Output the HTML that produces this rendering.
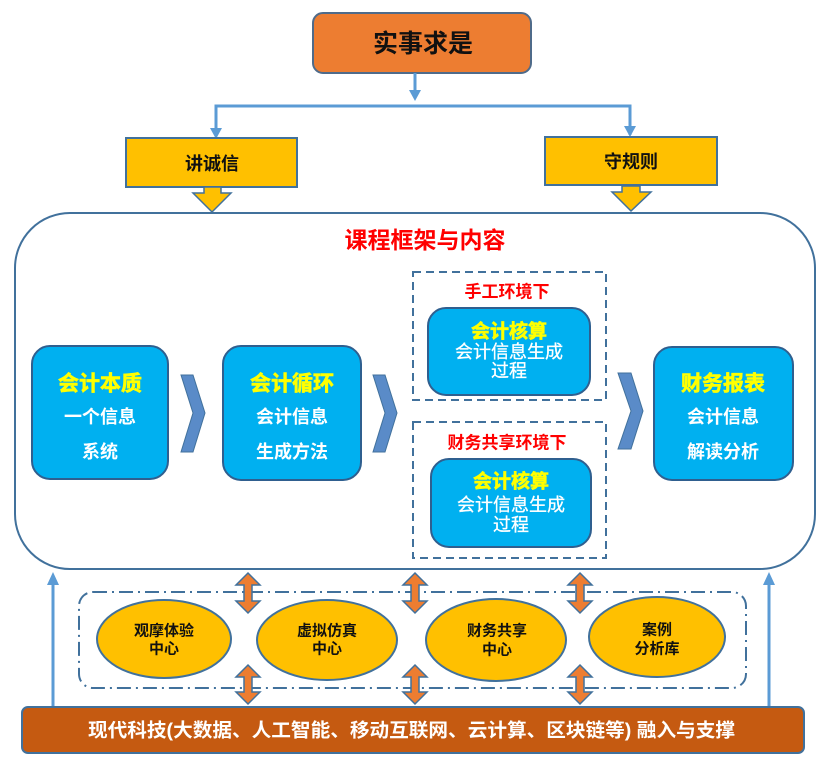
<!DOCTYPE html>
<html>
<head>
<meta charset="utf-8">
<style>
  html,body{margin:0;padding:0;background:#fff;}
  svg{display:block;}
  text{font-family:"Liberation Sans","Noto Sans CJK SC",sans-serif;}
</style>
</head>
<body>
<svg width="832" height="775" viewBox="0 0 832 775" xmlns="http://www.w3.org/2000/svg">
  <rect x="0" y="0" width="832" height="775" fill="#ffffff"/>

  <!-- Top box -->
  <rect x="313" y="13" width="218" height="60" rx="10" fill="#ED7D31" stroke="#4F6B8A" stroke-width="2"/>
  <text x="423" y="44" font-size="25" font-weight="bold" fill="#111" text-anchor="middle" dominant-baseline="central">实事求是</text>

  <!-- connectors -->
  <g stroke="#5B9BD5" stroke-width="3" fill="none">
    <line x1="415" y1="73" x2="415" y2="92"/>
    <polyline points="216,136 216,106 630,106 630,135"/>
  </g>
  <g fill="#5B9BD5">
    <polygon points="409,90 421,90 415,101"/>
    <polygon points="210,128 222,128 216,139"/>
    <polygon points="624,126 636,126 630,137"/>
  </g>

  <!-- yellow boxes -->
  <rect x="126" y="138" width="171" height="49" fill="#FFC000" stroke="#41719C" stroke-width="2"/>
  <text x="212" y="164" font-size="18" font-weight="bold" fill="#111" text-anchor="middle" dominant-baseline="central">讲诚信</text>
  <polygon points="204,187 221,187 221,193 231,193 212,212 193,193 204,193" fill="#FFC000" stroke="#41719C" stroke-width="1.5"/>

  <rect x="545" y="137" width="172" height="48" fill="#FFC000" stroke="#41719C" stroke-width="2"/>
  <text x="631" y="162" font-size="18" font-weight="bold" fill="#111" text-anchor="middle" dominant-baseline="central">守规则</text>
  <polygon points="622,186 640,186 640,192 651,192 631,211 612,192 622,192" fill="#FFC000" stroke="#41719C" stroke-width="1.5"/>

  <!-- main container -->
  <rect x="15" y="213" width="800" height="356" rx="55" fill="#ffffff" stroke="#41719C" stroke-width="2"/>
  <text x="425" y="240" font-size="23" font-weight="bold" fill="#FF0000" text-anchor="middle" dominant-baseline="central">课程框架与内容</text>

  <!-- Box 1 -->
  <rect x="32" y="346" width="136" height="133" rx="18" fill="#00B0F0" stroke="#2F5F8F" stroke-width="2"/>
  <text x="100" y="384" font-size="21" font-weight="bold" fill="#FFFF00" stroke="#FFFF00" stroke-width="0.6" text-anchor="middle" dominant-baseline="central">会计本质</text>
  <text x="100" y="417" font-size="18" font-weight="bold" fill="#ffffff" text-anchor="middle" dominant-baseline="central">一个信息</text>
  <text x="100" y="452" font-size="18" font-weight="bold" fill="#ffffff" text-anchor="middle" dominant-baseline="central">系统</text>

  <!-- chevron 1 -->
  <polygon points="181,375 193,375 205,413 193,452 181,452 193,413" fill="#5A8BC8" stroke="#41719C" stroke-width="1"/>

  <!-- Box 2 -->
  <rect x="223" y="346" width="138" height="134" rx="18" fill="#00B0F0" stroke="#2F5F8F" stroke-width="2"/>
  <text x="292" y="384" font-size="21" font-weight="bold" fill="#FFFF00" stroke="#FFFF00" stroke-width="0.6" text-anchor="middle" dominant-baseline="central">会计循环</text>
  <text x="292" y="417" font-size="18" font-weight="bold" fill="#ffffff" text-anchor="middle" dominant-baseline="central">会计信息</text>
  <text x="292" y="452" font-size="18" font-weight="bold" fill="#ffffff" text-anchor="middle" dominant-baseline="central">生成方法</text>

  <!-- chevron 2 -->
  <polygon points="373,375 385,375 397,413 385,452 373,452 385,413" fill="#5A8BC8" stroke="#41719C" stroke-width="1"/>

  <!-- dashed box top -->
  <rect x="413" y="272" width="193" height="128" fill="none" stroke="#41719C" stroke-width="2" stroke-dasharray="8 5"/>
  <text x="507" y="292" font-size="17" font-weight="bold" fill="#FF0000" text-anchor="middle" dominant-baseline="central">手工环境下</text>
  <rect x="428" y="308" width="162" height="87" rx="18" fill="#00B0F0" stroke="#2F5F8F" stroke-width="2"/>
  <text x="509" y="332" font-size="19" font-weight="bold" fill="#FFFF00" stroke="#FFFF00" stroke-width="0.6" text-anchor="middle" dominant-baseline="central">会计核算</text>
  <text x="509" y="352" font-size="18" fill="#ffffff" stroke="#ffffff" stroke-width="0.3" text-anchor="middle" dominant-baseline="central">会计信息生成</text>
  <text x="509" y="371" font-size="18" fill="#ffffff" stroke="#ffffff" stroke-width="0.3" text-anchor="middle" dominant-baseline="central">过程</text>

  <!-- dashed box bottom -->
  <rect x="413" y="422" width="193" height="136" fill="none" stroke="#41719C" stroke-width="2" stroke-dasharray="8 5"/>
  <text x="507" y="443" font-size="17" font-weight="bold" fill="#FF0000" text-anchor="middle" dominant-baseline="central">财务共享环境下</text>
  <rect x="431" y="459" width="160" height="88" rx="18" fill="#00B0F0" stroke="#2F5F8F" stroke-width="2"/>
  <text x="511" y="482" font-size="19" font-weight="bold" fill="#FFFF00" stroke="#FFFF00" stroke-width="0.6" text-anchor="middle" dominant-baseline="central">会计核算</text>
  <text x="511" y="505" font-size="18" fill="#ffffff" stroke="#ffffff" stroke-width="0.3" text-anchor="middle" dominant-baseline="central">会计信息生成</text>
  <text x="511" y="525" font-size="18" fill="#ffffff" stroke="#ffffff" stroke-width="0.3" text-anchor="middle" dominant-baseline="central">过程</text>

  <!-- chevron 3 -->
  <polygon points="618,373 631,373 643,411 631,449 618,449 631,411" fill="#5A8BC8" stroke="#41719C" stroke-width="1"/>

  <!-- Box 5 -->
  <rect x="654" y="347" width="139" height="133" rx="18" fill="#00B0F0" stroke="#2F5F8F" stroke-width="2"/>
  <text x="723" y="384" font-size="21" font-weight="bold" fill="#FFFF00" stroke="#FFFF00" stroke-width="0.6" text-anchor="middle" dominant-baseline="central">财务报表</text>
  <text x="723" y="417" font-size="18" font-weight="bold" fill="#ffffff" text-anchor="middle" dominant-baseline="central">会计信息</text>
  <text x="723" y="452" font-size="18" font-weight="bold" fill="#ffffff" text-anchor="middle" dominant-baseline="central">解读分析</text>

  <!-- up arrows on sides -->
  <g stroke="#5B9BD5" stroke-width="3">
    <line x1="53" y1="707" x2="53" y2="582"/>
    <line x1="769" y1="707" x2="769" y2="582"/>
  </g>
  <g fill="#5B9BD5">
    <polygon points="47,585 59,585 53,572"/>
    <polygon points="763,585 775,585 769,572"/>
  </g>

  <!-- dash-dot container -->
  <rect x="79" y="592" width="667" height="96" rx="14" fill="none" stroke="#41719C" stroke-width="2" stroke-dasharray="14 5 2 5"/>

  <!-- ellipses -->
  <g fill="#FFC000" stroke="#41719C" stroke-width="2">
    <ellipse cx="164" cy="639" rx="67" ry="39"/>
    <ellipse cx="327" cy="640" rx="70" ry="40"/>
    <ellipse cx="496" cy="640" rx="70" ry="41"/>
    <ellipse cx="657" cy="637" rx="68" ry="40"/>
  </g>
  <g font-size="15" font-weight="bold" fill="#111" text-anchor="middle">
    <text x="164" y="631" dominant-baseline="central">观摩体验</text>
    <text x="164" y="649" dominant-baseline="central">中心</text>
    <text x="327" y="631" dominant-baseline="central">虚拟仿真</text>
    <text x="327" y="649" dominant-baseline="central">中心</text>
    <text x="497" y="631" dominant-baseline="central">财务共享</text>
    <text x="497" y="650" dominant-baseline="central">中心</text>
    <text x="657" y="630" dominant-baseline="central">案例</text>
    <text x="657" y="649" dominant-baseline="central">分析库</text>
  </g>

  <!-- orange double arrows -->
  <g fill="#ED7D31" stroke="#41719C" stroke-width="1.5">
    <polygon points="248,573 260,585 252,585 252,601 260,601 248,613 236,601 244,601 244,585 236,585"/>
    <polygon points="248,665 260,677 252,677 252,692 260,692 248,704 236,692 244,692 244,677 236,677"/>
    <polygon points="415,573 427,585 419,585 419,601 427,601 415,613 403,601 411,601 411,585 403,585"/>
    <polygon points="415,665 427,677 419,677 419,692 427,692 415,704 403,692 411,692 411,677 403,677"/>
    <polygon points="580,573 592,585 584,585 584,601 592,601 580,613 568,601 576,601 576,585 568,585"/>
    <polygon points="580,665 592,677 584,677 584,692 592,692 580,704 568,692 576,692 576,677 568,677"/>
  </g>

  <!-- bottom bar -->
  <rect x="22" y="707" width="782" height="46" rx="6" fill="#C55A11" stroke="#41719C" stroke-width="2"/>
  <text x="88" y="731" font-size="19" font-weight="bold" fill="#ffffff" dominant-baseline="central" textLength="647" lengthAdjust="spacingAndGlyphs">现代科技(大数据、人工智能、移动互联网、云计算、区块链等) 融入与支撑</text>
</svg>
</body>
</html>
